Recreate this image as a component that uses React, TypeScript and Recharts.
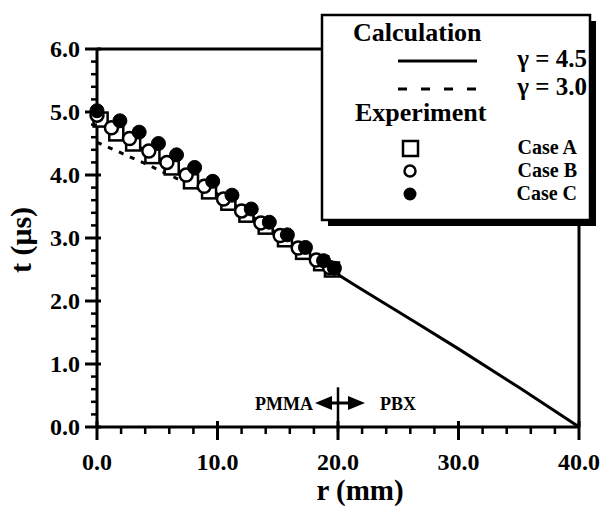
import React from 'react';
import { ComposedChart, Line, Scatter, XAxis, YAxis, ReferenceLine } from 'recharts';

// Calculation curves
const calcGamma45 = [
  { r: 0, t: 4.85 }, { r: 5, t: 4.27 }, { r: 10, t: 3.7 }, { r: 15, t: 3.07 },
  { r: 20, t: 2.42 }, { r: 25, t: 1.83 }, { r: 30, t: 1.24 }, { r: 35, t: 0.63 }, { r: 40, t: 0 },
];
const calcGamma30 = [
  { r: 0, t: 4.52 }, { r: 2, t: 4.35 }, { r: 4, t: 4.18 }, { r: 6, t: 4.0 },
  { r: 8, t: 3.82 }, { r: 10, t: 3.64 }, { r: 11.5, t: 3.52 },
];

// Experiment
const caseA = [
  { r: 0.3, t: 4.88 }, { r: 1.6, t: 4.66 }, { r: 3.0, t: 4.5 }, { r: 4.6, t: 4.3 },
  { r: 6.2, t: 4.12 }, { r: 7.8, t: 3.9 }, { r: 9.3, t: 3.74 }, { r: 10.9, t: 3.56 },
  { r: 12.4, t: 3.37 }, { r: 14.0, t: 3.18 }, { r: 15.6, t: 2.98 }, { r: 17.1, t: 2.78 },
  { r: 18.6, t: 2.6 }, { r: 19.5, t: 2.5 },
];
const caseB = [
  { r: 0, t: 4.95 }, { r: 1.2, t: 4.75 }, { r: 2.7, t: 4.58 }, { r: 4.3, t: 4.38 },
  { r: 5.8, t: 4.2 }, { r: 7.4, t: 4.0 }, { r: 8.9, t: 3.82 }, { r: 10.5, t: 3.62 },
  { r: 12.0, t: 3.43 }, { r: 13.6, t: 3.24 }, { r: 15.2, t: 3.04 }, { r: 16.7, t: 2.84 },
  { r: 18.2, t: 2.65 }, { r: 19.3, t: 2.53 },
];
const caseC = [
  { r: 0, t: 5.02 }, { r: 1.9, t: 4.86 }, { r: 3.5, t: 4.68 }, { r: 5.1, t: 4.5 },
  { r: 6.6, t: 4.32 }, { r: 8.1, t: 4.12 }, { r: 9.6, t: 3.9 }, { r: 11.2, t: 3.68 },
  { r: 12.8, t: 3.46 }, { r: 14.3, t: 3.25 }, { r: 15.8, t: 3.05 }, { r: 17.3, t: 2.85 },
  { r: 18.8, t: 2.64 }, { r: 19.7, t: 2.52 },
];

// Ticks
const xTicks = [0, 2, 4, 6, 8, 10, 12, 14, 16, 18, 20, 22, 24, 26, 28, 30, 32, 34, 36, 38, 40];
const xMajor = [0, 10, 20, 30, 40];
const yTicks = [
  0, 0.2, 0.4, 0.6, 0.8, 1, 1.2, 1.4, 1.6, 1.8, 2, 2.2, 2.4, 2.6, 2.8, 3,
  3.2, 3.4, 3.6, 3.8, 4, 4.2, 4.4, 4.6, 4.8, 5, 5.2, 5.4, 5.6, 5.8, 6,
];
const yMajor = [0, 1, 2, 3, 4, 5, 6];

const FONT = "'Liberation Serif', 'Times New Roman', serif";

const isIn = (arr: number[], v: number) => arr.some((a) => Math.abs(a - v) < 1e-6);

const XTick = (props: any) => {
  const { x, y, payload } = props;
  const v = payload.value as number;
  const major = isIn(xMajor, v);
  return (
    <g>
      <line x1={x} x2={x} y1={major ? y - 6 : y} y2={major ? y + 13 : y + 7} stroke="#000" strokeWidth={major ? 3 : 2.5} />
      {major && (
        <text x={x} y={y + 43} textAnchor="middle" fontFamily={FONT} fontWeight="bold" fontSize={24} fill="#000">
          {v.toFixed(1)}
        </text>
      )}
    </g>
  );
};

const YTick = (props: any) => {
  const { x, y, payload } = props;
  const v = payload.value as number;
  const major = isIn(yMajor, v);
  return (
    <g>
      <line x1={major ? x - 12 : x - 6} x2={major ? x + 4 : x} y1={y} y2={y} stroke="#000" strokeWidth={major ? 3 : 2.5} />
      {major && (
        <text x={x - 17} y={y + 8} textAnchor="end" fontFamily={FONT} fontWeight="bold" fontSize={24} fill="#000">
          {v.toFixed(1)}
        </text>
      )}
    </g>
  );
};

const SquareShape = (props: any) => {
  const { cx, cy } = props;
  return <rect x={cx - 7} y={cy - 7} width={14} height={14} fill="#fff" stroke="#000" strokeWidth={2.5} />;
};
const OpenCircle = (props: any) => {
  const { cx, cy } = props;
  return <circle cx={cx} cy={cy} r={6.5} fill="#fff" stroke="#000" strokeWidth={2.5} />;
};
const FilledCircle = (props: any) => {
  const { cx, cy } = props;
  return <circle cx={cx} cy={cy} r={7} fill="#000" stroke="#000" strokeWidth={1} />;
};

const txt = { fontFamily: FONT, fontWeight: 'bold' as const, fill: '#000' };

export default function App() {
  return (
    <div style={{ position: 'absolute', left: 0, top: 0, width: 606, height: 506, background: '#fff' }}>
      <ComposedChart width={606} height={506} margin={{ top: 49, right: 27, left: 0, bottom: 0 }}>
        <XAxis
          dataKey="r"
          type="number"
          domain={[0, 40]}
          ticks={xTicks}
          interval={0}
          height={79}
          tickSize={0}
          tickMargin={0}
          tickLine={false}
          axisLine={{ stroke: '#000', strokeWidth: 3 }}
          tick={XTick}
        />
        <YAxis
          dataKey="t"
          type="number"
          domain={[0, 6]}
          ticks={yTicks}
          interval={0}
          width={97}
          tickSize={0}
          tickMargin={0}
          tickLine={false}
          axisLine={{ stroke: '#000', strokeWidth: 3 }}
          tick={YTick}
        />
        <ReferenceLine y={6} stroke="#000" strokeWidth={3} />
        <ReferenceLine x={40} stroke="#000" strokeWidth={3} />
        <ReferenceLine
          segment={[{ x: 20, y: -0.08 }, { x: 20, y: 0.63 }]}
          stroke="#000"
          strokeWidth={2.5}
          ifOverflow="visible"
        />
        <Line data={calcGamma30} dataKey="t" type="monotone" stroke="#000" strokeWidth={3} strokeDasharray="5 7" dot={false} isAnimationActive={false} />
        <Line data={calcGamma45} dataKey="t" type="monotone" stroke="#000" strokeWidth={3} dot={false} isAnimationActive={false} />
        <Scatter data={caseA} dataKey="t" shape={SquareShape} isAnimationActive={false} />
        <Scatter data={caseB} dataKey="t" shape={OpenCircle} isAnimationActive={false} />
        <Scatter data={caseC} dataKey="t" shape={FilledCircle} isAnimationActive={false} />
      </ComposedChart>
      <svg width={606} height={506} style={{ position: 'absolute', left: 0, top: 0, pointerEvents: 'none' }}>
        {/* axis titles */}
        <text x={360} y={500} textAnchor="middle" fontSize={29} {...txt}>r (mm)</text>
        <text transform="translate(31,240) rotate(-90)" x={0} y={0} textAnchor="middle" fontSize={30} {...txt}>t (μs)</text>
        {/* PMMA / PBX annotation */}
        <text x={313} y={410} textAnchor="end" fontSize={18} {...txt}>PMMA</text>
        <text x={380} y={410} textAnchor="start" fontSize={18} {...txt}>PBX</text>
        <line x1={328} x2={352} y1={403} y2={403} stroke="#000" strokeWidth={3} />
        <polygon points="315,403 332,396 332,410" fill="#000" />
        <polygon points="365,403 348,396 348,410" fill="#000" />
        {/* legend */}
        <rect x={328} y={21} width={268} height={205} fill="#000" />
        <rect x={322} y={15} width={268} height={205} fill="#fff" stroke="#000" strokeWidth={2.5} />
        <text x={353} y={41} fontSize={26} {...txt}>Calculation</text>
        <line x1={398} x2={477} y1={61} y2={61} stroke="#000" strokeWidth={3} />
        <text x={587} y={67} textAnchor="end" fontSize={25} {...txt}>γ = 4.5</text>
        <line x1={398} x2={477} y1={89} y2={89} stroke="#000" strokeWidth={3} strokeDasharray="9 14" />
        <text x={587} y={95} textAnchor="end" fontSize={25} {...txt}>γ = 3.0</text>
        <text x={355} y={121} fontSize={26} {...txt}>Experiment</text>
        <rect x={403} y={141} width={15} height={15} fill="#fff" stroke="#000" strokeWidth={2.5} />
        <text x={577} y={154} textAnchor="end" fontSize={20} {...txt}>Case A</text>
        <circle cx={410} cy={171} r={5.5} fill="#fff" stroke="#000" strokeWidth={2.5} />
        <text x={577} y={177} textAnchor="end" fontSize={20} {...txt}>Case B</text>
        <circle cx={410} cy={194} r={6.5} fill="#000" />
        <text x={577} y={200} textAnchor="end" fontSize={20} {...txt}>Case C</text>
      </svg>
    </div>
  );
}
